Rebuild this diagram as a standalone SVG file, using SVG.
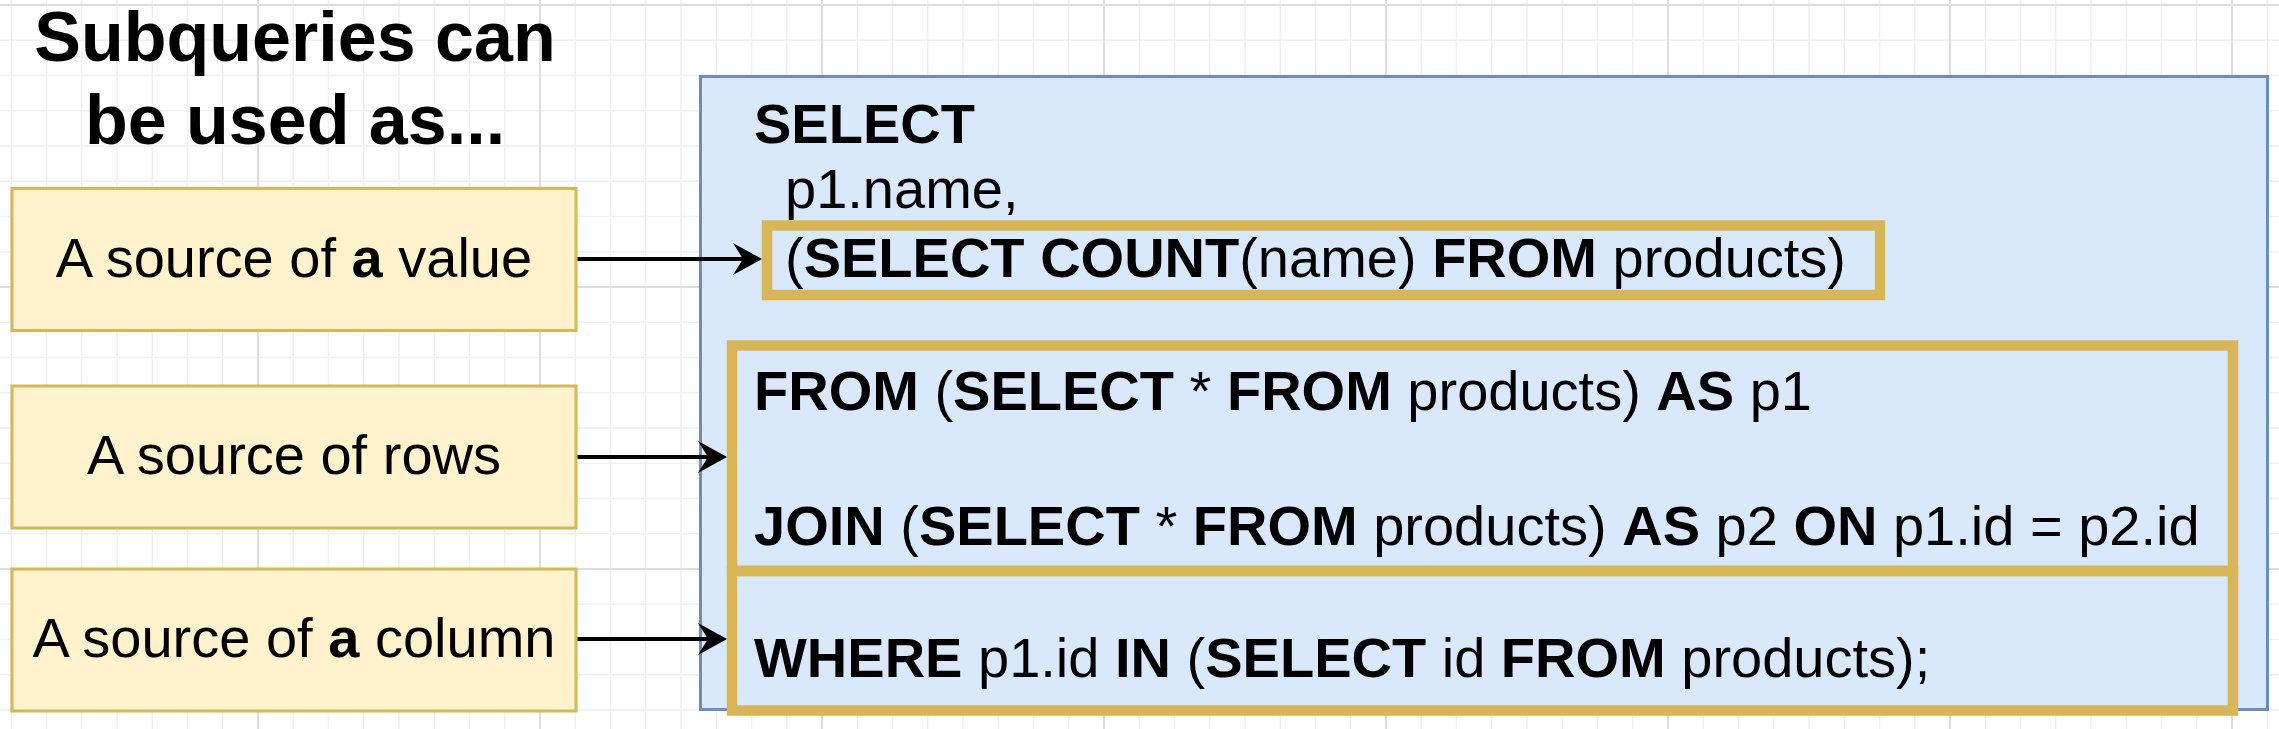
<svg xmlns="http://www.w3.org/2000/svg" width="2279" height="729" viewBox="0 0 2279 729">
  <defs>
    <pattern id="grid" patternUnits="userSpaceOnUse" x="257" y="4" width="282" height="282">
      <path d="M36.25 0V282M71.5 0V282M106.75 0V282M142 0V282M177.25 0V282M212.5 0V282M247.75 0V282M0 36.25H282M0 71.5H282M0 106.75H282M0 142H282M0 177.25H282M0 212.5H282M0 247.75H282" stroke="#f0f0f0" stroke-width="1.5" fill="none"/>
      <path d="M1 0V282M0 1H282" stroke="#dedede" stroke-width="2" fill="none"/>
    </pattern>
    <marker id="arrow" markerUnits="userSpaceOnUse" markerWidth="30" markerHeight="34" refX="10" refY="16" orient="auto" viewBox="0 0 30 32">
      <path d="M0 0 L29 16 L0 32 L10 16 Z" fill="#000"/>
    </marker>
  </defs>
  <style>
    .t { font-family: "Liberation Sans", Arial, Helvetica, sans-serif; fill: #000; }
    .title { font-size: 70px; font-weight: bold; text-anchor: middle; }
    .lbl { font-size: 56px; text-anchor: middle; }
    .sql { font-size: 56px; }
    .b { font-weight: bold; }
    .src { fill: #fff2cc; stroke: #d6b656; stroke-width: 3; }
    .query { fill: #dae8fc; stroke: #6c8ebf; stroke-width: 3; }
    .hl { fill: none; stroke: #d6b656; stroke-width: 10.5; }
    .conn { stroke: #000; stroke-width: 4; fill: none; marker-end: url(#arrow); }
  </style>
  <rect x="0" y="0" width="2279" height="729" fill="#ffffff"/>
  <rect x="0" y="0" width="2279" height="729" fill="url(#grid)"/>

  <g id="title">
    <text class="t title" x="295" y="61">Subqueries can</text>
    <text class="t title" x="295" y="144">be used as...</text>
  </g>

  <g id="src-value">
    <rect class="src" x="12" y="188.5" width="564" height="142"/>
    <text class="t lbl" x="294" y="277">A source of <tspan class="b">a</tspan> value</text>
  </g>
  <g id="src-rows">
    <rect class="src" x="12" y="386" width="564" height="142"/>
    <text class="t lbl" x="294" y="474">A source of rows</text>
  </g>
  <g id="src-column">
    <rect class="src" x="12" y="569" width="564" height="142"/>
    <text class="t lbl" x="294" y="657">A source of <tspan class="b">a</tspan> column</text>
  </g>

  <g id="query">
    <rect class="query" x="700.5" y="76.5" width="1567" height="633"/>
    <text class="t sql b" x="754" y="143">SELECT</text>
    <text class="t sql" x="785" y="208">p1.name,</text>
  </g>
  <g id="hl-value">
    <rect class="hl" x="767" y="225.5" width="1113" height="69.5"/>
    <text class="t sql" x="785" y="277">(<tspan class="b">SELECT COUNT</tspan>(name) <tspan class="b">FROM</tspan> products)</text>
  </g>
  <g id="hl-rows">
    <rect class="hl" x="732" y="345.5" width="1501" height="225.5"/>
    <text class="t sql" x="754" y="410"><tspan class="b">FROM</tspan> (<tspan class="b">SELECT</tspan> * <tspan class="b">FROM</tspan> products) <tspan class="b">AS</tspan> p1</text>
    <text class="t sql" x="754" y="545"><tspan class="b">JOIN</tspan> (<tspan class="b">SELECT</tspan> * <tspan class="b">FROM</tspan> products) <tspan class="b">AS</tspan> p2 <tspan class="b">ON</tspan> p1.id = p2.id</text>
  </g>
  <g id="hl-column">
    <rect class="hl" x="732" y="571" width="1501" height="139.5"/>
    <text class="t sql" x="754" y="677"><tspan class="b">WHERE</tspan> p1.id <tspan class="b">IN</tspan> (<tspan class="b">SELECT</tspan> id <tspan class="b">FROM</tspan> products);</text>
  </g>

  <g id="connectors">
    <line class="conn" x1="577.5" y1="259" x2="743" y2="259"/>
    <line class="conn" x1="577.5" y1="457" x2="708" y2="457"/>
    <line class="conn" x1="577.5" y1="639" x2="708" y2="639"/>
  </g>
</svg>
